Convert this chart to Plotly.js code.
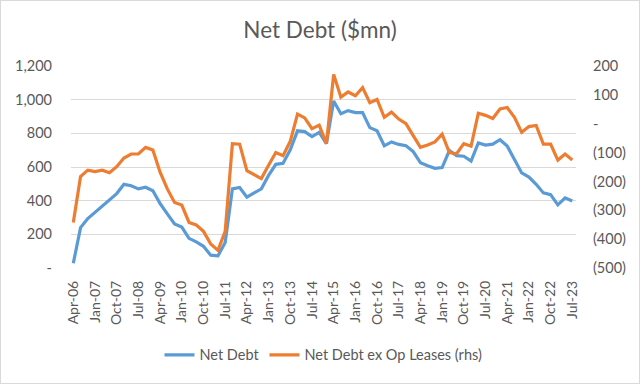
<!DOCTYPE html>
<html>
<head>
<meta charset="utf-8">
<script src="https://cdn.plot.ly/plotly-3.0.1.min.js"></script>
<style>
html,body{margin:0;padding:0;background:#fff;}
#wrap{width:638px;height:382px;border:1px solid #d9d9d9;}
#chart{width:638px;height:382px;}
</style>
</head>
<body>
<div id="wrap"><div id="chart"></div></div>
<script>
// Quarterly periods Apr-06 .. Jul-23
const periods = [];
(function(){
  const m = ["Jan","Apr","Jul","Oct"];
  for (let y = 2006; y <= 2023; y++) {
    for (let q = 0; q < 4; q++) {
      if (y === 2006 && q === 0) continue;
      if (y === 2023 && q === 3) continue;
      periods.push(m[q] + "-" + String(y).slice(2));
    }
  }
})();

const netDebt = [
  28, 240, 294, 332, 370, 402, 442, 497, 489, 470,
  480, 459, 383, 322, 262, 243, 176, 155, 129, 76,
  72, 152, 470, 478, 421, 446, 470, 550, 616, 622,
  702, 815, 810, 781, 806, 739, 992, 916, 935, 923,
  923, 834, 815, 726, 749, 734, 726, 692, 626, 607,
  592, 597, 698, 667, 664, 635, 743, 730, 736, 762,
  724, 645, 565, 540, 497, 446, 436, 375, 417, 398
];

const netDebtExLeases = [
  -342, -183, -161, -166, -161, -170, -149, -119, -105, -105,
  -82, -91, -168, -226, -273, -282, -342, -351, -373, -417,
  -439, -373, -69, -71, -163, -177, -190, -144, -100, -111,
  -61, 33, 20, -17, -5, -69, 171, 92, 110, 97,
  125, 73, 84, 22, 40, 16, 0, -41, -82, -74,
  -63, -36, -100, -104, -69, -78, 36, 29, 18, 51,
  56, 22, -30, -10, -6, -71, -71, -126, -105, -126
];

const leftTickVals = [0, 200, 400, 600, 800, 1000, 1200];
const leftTickText = ["-", "200", "400", "600", "800", "1,000", "1,200"];
const rightTickVals = [-500, -400, -300, -200, -100, 0, 100, 200];
const rightTickText = ["(500)", "(400)", "(300)", "(200)", "(100)", "-", "100", "200"];

const xIdx = periods.map((_, i) => i);
const xTickVals = xIdx.filter(i => i % 3 === 0);
const xTickText = xTickVals.map(i => periods[i]);

const grey = "#595959";
const fontFam = "Lato, 'Open Sans', sans-serif";

const traces = [
  {
    x: xIdx, y: netDebt, type: "scatter", mode: "lines",
    name: "Net Debt", line: {color: "#5B9BD5", width: 3.2}, yaxis: "y"
  },
  {
    x: xIdx, y: netDebtExLeases, type: "scatter", mode: "lines",
    name: "Net Debt ex Op Leases (rhs)", line: {color: "#ED7D31", width: 3.2}, yaxis: "y2"
  }
];

const layout = {
  width: 638, height: 382,
  margin: {l: 70, r: 63, t: 65, b: 106, pad: 0},
  paper_bgcolor: "#fff", plot_bgcolor: "#fff",
  font: {family: fontFam, color: grey, size: 14.5},
  title: {text: "Net Debt ($mn)", font: {size: 22.5, color: grey, family: fontFam}, x: 0.5, xanchor: "center", y: 0.925, yanchor: "middle"},
  showlegend: true,
  legend: {orientation: "h", x: 0.5, xanchor: "center", y: -0.43, yanchor: "middle", font: {size: 14.5, color: grey}, traceorder: "normal", itemwidth: 30},
  xaxis: {
    range: [-0.32, 69.51], tickvals: xTickVals, ticktext: xTickText, tickangle: -90,
    showgrid: false, zeroline: false, showline: false, ticks: "",
    tickfont: {size: 14, color: grey}, ticklabelstandoff: 9, fixedrange: true
  },
  yaxis: {
    range: [0, 1200], tickvals: leftTickVals, ticktext: leftTickText,
    showgrid: true, gridcolor: "#d9d9d9", gridwidth: 1, zeroline: false, showline: false,
    tickfont: {size: 14.5, color: grey}, ticks: "", ticklabelstandoff: 18
  },
  yaxis2: {
    range: [-500, 200], tickvals: rightTickVals, ticktext: rightTickText,
    overlaying: "y", side: "right", showgrid: false, zeroline: false, showline: false,
    tickfont: {size: 14.5, color: grey}, ticks: "", ticklabelstandoff: 16
  }
};

Plotly.newPlot("chart", traces, layout, {displayModeBar: false, staticPlot: true});
</script>
</body>
</html>
